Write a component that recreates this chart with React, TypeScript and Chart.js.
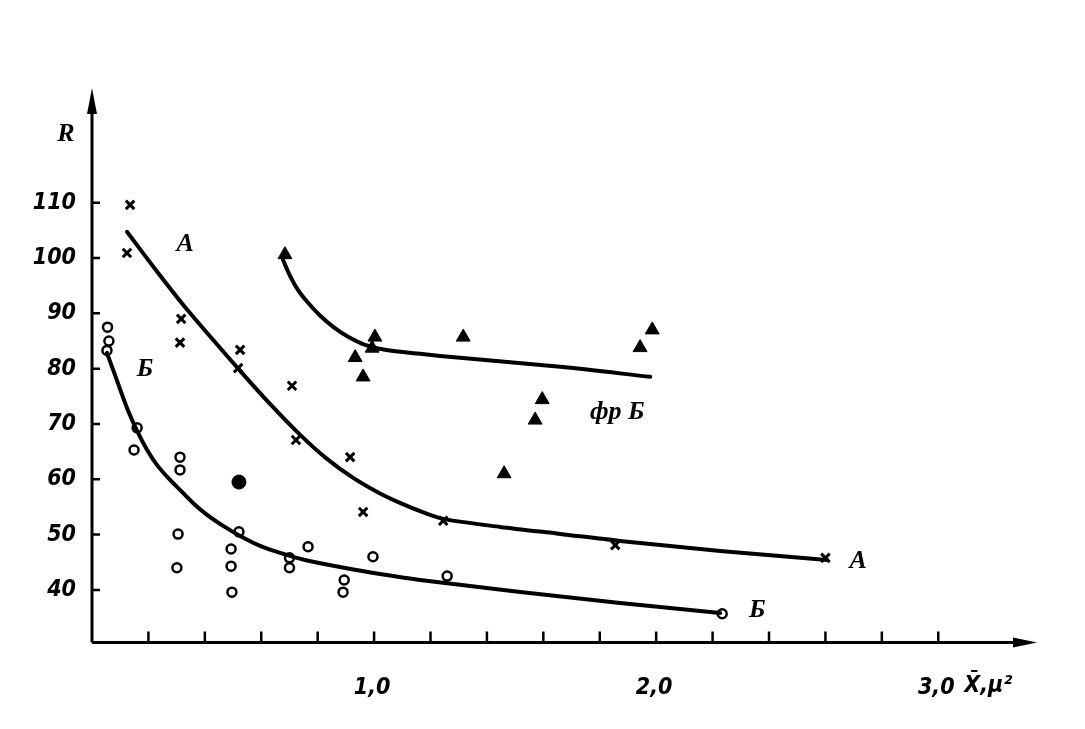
import React, { useEffect, useRef } from "react";
import { Chart, registerables } from "chart.js";

Chart.register(...registerables);

// Series A (crosses)
const crossX = [0.135, 0.124, 0.316, 0.312, 0.525, 0.518, 0.709, 0.723, 0.915, 0.961, 1.245, 1.855, 2.6];
const crossY = [109.6, 100.9, 89, 84.7, 83.4, 80.1, 76.9, 67.1, 64, 54.1, 52.5, 48.1, 45.8];

// Series Б (open circles)
const circX = [0.055, 0.06, 0.053, 0.16, 0.149, 0.312, 0.312, 0.305, 0.301, 0.521, 0.493, 0.493, 0.496, 0.7, 0.7, 0.766, 0.894, 0.89, 0.996, 1.259, 2.234];
const circY = [87.5, 85, 83.3, 69.3, 65.3, 64, 61.7, 50.1, 44, 50.5, 47.4, 44.3, 39.6, 45.8, 44, 47.8, 41.8, 39.6, 46, 42.5, 35.7];

// Filled circle
const dotX = [0.521];
const dotY = [59.5];

// Series фр Б (triangles)
const triX = [0.684, 1.003, 0.993, 0.933, 0.961, 1.316, 1.986, 1.943, 1.596, 1.571, 1.461];
const triY = [100.6, 85.7, 83.7, 82, 78.5, 85.7, 87, 83.8, 74.4, 70.7, 61];

// Fitted curves
const curveAX = [0.124, 0.223, 0.323, 0.426, 0.525, 0.631, 0.738, 0.833, 0.926, 1.011, 1.092, 1.17, 1.245, 1.447, 1.66, 1.872, 2.227, 2.606];
const curveAY = [104.74, 98.05, 91.54, 85.39, 79.6, 73.63, 68.03, 63.69, 60.25, 57.72, 55.73, 54.1, 52.84, 51.39, 50.13, 48.86, 47.05, 45.42];
const curveBX = [0.053, 0.089, 0.124, 0.16, 0.195, 0.23, 0.27, 0.312, 0.358, 0.408, 0.465, 0.525, 0.596, 0.667, 0.755, 0.879, 1.021, 1.163, 1.518, 1.872, 2.227];
const curveBY = [82.84, 77.78, 72.9, 68.75, 65.32, 62.6, 60.25, 58.08, 55.73, 53.56, 51.57, 49.76, 47.96, 46.69, 45.42, 44.16, 42.89, 41.81, 39.64, 37.65, 35.84];
const curveFX = [0.677, 0.702, 0.73, 0.766, 0.809, 0.855, 0.908, 0.968, 1.039, 1.163, 1.305, 1.66, 1.979];
const curveFY = [99.67, 96.78, 94.25, 91.9, 89.55, 87.56, 85.75, 84.3, 83.4, 82.68, 81.95, 80.33, 78.52];

// Axis ticks
const yTickValues = [40, 50, 60, 70, 80, 90, 100, 110];
const xTickValues = [0.2, 0.4, 0.6, 0.8, 1.0, 1.2, 1.4, 1.6, 1.8, 2.0, 2.2, 2.4, 2.6, 2.8, 3.0];
const xLabelValues = [1, 2, 3];
const xLabelTexts = ["1,0", "2,0", "3,0"];

// Curve labels
const labelTexts = ["А", "Б", "фр Б", "А", "Б"];
const labelX = [0.33, 0.188, 1.862, 2.716, 2.358];
const labelY = [102.4, 79.8, 72.2, 45.1, 36.4];

const pts = (xs: number[], ys: number[]) => xs.map((x, i) => ({ x, y: ys[i] }));

const NUM_FONT = "italic bold 23px 'Liberation Sans Narrow', 'DejaVu Sans Condensed', sans-serif";
const LETTER_FONT = "italic bold 26px 'Liberation Serif', 'DejaVu Serif', serif";

const decorPlugin = {
  id: "decor",
  afterDraw(chart: any) {
    const ctx = chart.ctx;
    const xs = chart.scales.x;
    const ys = chart.scales.y;
    const ca = chart.chartArea;
    ctx.save();
    ctx.strokeStyle = "#000";
    ctx.fillStyle = "#000";
    ctx.lineWidth = 3;
    // axes
    ctx.beginPath();
    ctx.moveTo(ca.left, ca.bottom);
    ctx.lineTo(ca.right - 10, ca.bottom);
    ctx.moveTo(ca.left, ca.bottom);
    ctx.lineTo(ca.left, ca.top + 10);
    ctx.stroke();
    // arrows
    ctx.beginPath();
    ctx.moveTo(ca.right, ca.bottom);
    ctx.lineTo(ca.right - 24, ca.bottom - 5);
    ctx.lineTo(ca.right - 24, ca.bottom + 5);
    ctx.closePath();
    ctx.fill();
    ctx.beginPath();
    ctx.moveTo(ca.left, ca.top - 4);
    ctx.lineTo(ca.left - 5, ca.top + 22);
    ctx.lineTo(ca.left + 5, ca.top + 22);
    ctx.closePath();
    ctx.fill();
    // ticks
    ctx.lineWidth = 2.5;
    ctx.beginPath();
    yTickValues.forEach((v) => {
      const p = ys.getPixelForValue(v);
      ctx.moveTo(ca.left, p);
      ctx.lineTo(ca.left + 8, p);
    });
    xTickValues.forEach((v) => {
      const p = xs.getPixelForValue(v);
      ctx.moveTo(p, ca.bottom);
      ctx.lineTo(p, ca.bottom - 11);
    });
    ctx.stroke();
    // x labels
    ctx.font = NUM_FONT;
    ctx.textAlign = "center";
    ctx.textBaseline = "middle";
    xLabelValues.forEach((v, i) => {
      ctx.fillText(xLabelTexts[i], xs.getPixelForValue(v) - 2, ca.bottom + 46);
    });
    // axis titles
    ctx.textAlign = "left";
    ctx.fillText("X̄,μ²", xs.getPixelForValue(3) + 26, ca.bottom + 44);
    ctx.font = LETTER_FONT;
    ctx.textAlign = "center";
    ctx.fillText("R", ca.left - 26, ca.top + 42);
    // curve labels
    labelTexts.forEach((t, i) => {
      ctx.fillText(t, xs.getPixelForValue(labelX[i]), ys.getPixelForValue(labelY[i]));
    });
    ctx.restore();
  },
};

export default function App() {
  const ref = useRef<HTMLCanvasElement>(null);
  useEffect(() => {
    if (!ref.current) return;
    const lineDs = (xs: number[], ys: number[]) => ({
      type: "line" as const,
      data: pts(xs, ys),
      showLine: true,
      borderColor: "#000",
      borderWidth: 4,
      pointRadius: 0,
      fill: false,
      tension: 0.3,
      borderCapStyle: "round" as const,
      borderJoinStyle: "round" as const,
    });
    const chart = new Chart(ref.current, {
      type: "scatter",
      data: {
        datasets: [
          lineDs(curveAX, curveAY),
          lineDs(curveBX, curveBY),
          lineDs(curveFX, curveFY),
          {
            data: pts(crossX, crossY),
            pointStyle: "crossRot",
            pointRadius: 6,
            borderColor: "#000",
            borderWidth: 3,
          },
          {
            data: pts(circX, circY),
            pointStyle: "circle",
            pointRadius: 4.5,
            backgroundColor: "#fff",
            borderColor: "#000",
            borderWidth: 2.5,
          },
          {
            data: pts(dotX, dotY),
            pointStyle: "circle",
            pointRadius: 7,
            backgroundColor: "#000",
            borderColor: "#000",
            borderWidth: 1,
          },
          {
            data: pts(triX, triY),
            pointStyle: "triangle",
            pointRadius: 8,
            backgroundColor: "#000",
            borderColor: "#000",
            borderWidth: 1,
          },
        ] as any,
      },
      options: {
        responsive: false,
        animation: false,
        devicePixelRatio: 1,
        layout: { padding: { top: 92, right: 48, left: 0, bottom: 0 } },
        plugins: { legend: { display: false }, tooltip: { enabled: false } },
        scales: {
          x: {
            type: "linear",
            min: 0,
            max: 3.35,
            grid: { display: false },
            border: { display: false },
            ticks: { display: false },
            afterFit: (s: any) => {
              s.height = 86.5;
            },
          },
          y: {
            type: "linear",
            min: 30.5,
            max: 130,
            grid: { display: false },
            border: { display: false },
            ticks: {
              autoSkip: false,
              stepSize: 10,
              padding: 8,
              color: "#000",
              font: {
                family: "'Liberation Sans Narrow', 'DejaVu Sans Condensed', sans-serif",
                size: 23,
                style: "italic",
                weight: "bold",
              },
              callback: (v: any) => {
                const n = Number(v);
                return yTickValues.includes(n) ? String(n) : "";
              },
            },
            afterFit: (s: any) => {
              s.width = 92;
            },
          },
        },
      },
      plugins: [decorPlugin],
    });
    return () => chart.destroy();
  }, []);
  return (
    <div style={{ position: "absolute", left: 0, top: 0, width: 1085, height: 729, background: "#fff" }}>
      <canvas ref={ref} width={1085} height={729} />
    </div>
  );
}
